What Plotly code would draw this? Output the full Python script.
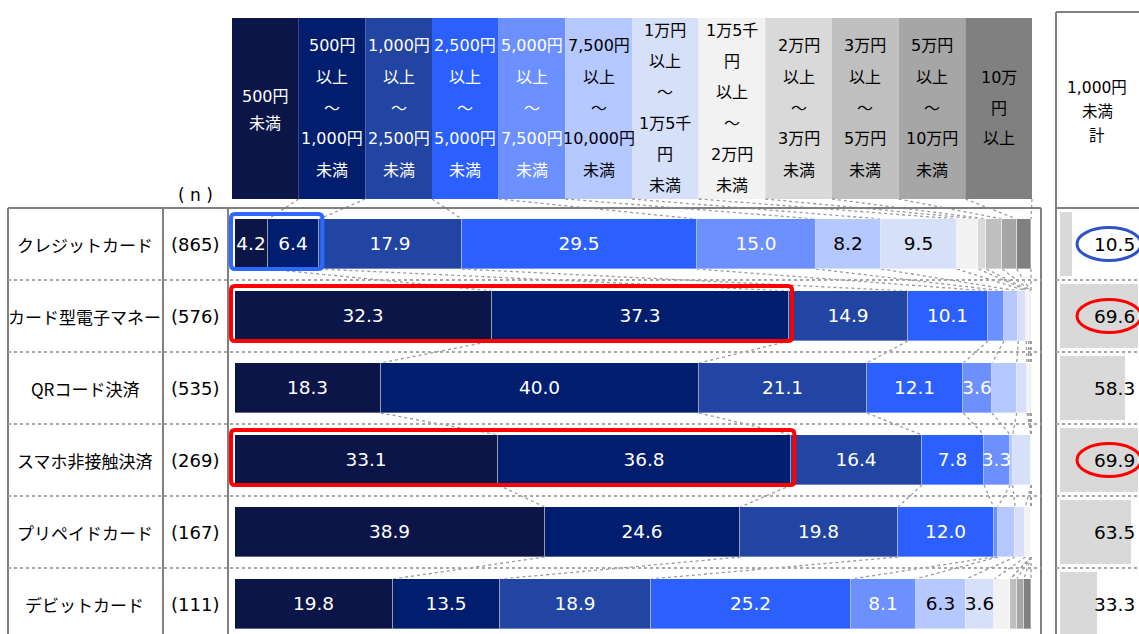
import plotly.graph_objects as go

# ---------------- data ----------------
categories = ["クレジットカード", "カード型電子マネー", "QRコード決済",
              "スマホ非接触決済", "プリペイドカード", "デビットカード"]
n_labels = ["(865)", "(576)", "(535)", "(269)", "(167)", "(111)"]

header_lines = [
    ["500円", "未満"],
    ["500円", "以上", "～", "1,000円", "未満"],
    ["1,000円", "以上", "～", "2,500円", "未満"],
    ["2,500円", "以上", "～", "5,000円", "未満"],
    ["5,000円", "以上", "～", "7,500円", "未満"],
    ["7,500円", "以上", "～", "10,000円", "未満"],
    ["1万円", "以上", "～", "1万5千", "円", "未満"],
    ["1万5千", "円", "以上", "～", "2万円", "未満"],
    ["2万円", "以上", "～", "3万円", "未満"],
    ["3万円", "以上", "～", "5万円", "未満"],
    ["5万円", "以上", "～", "10万円", "未満"],
    ["10万", "円", "以上"],
]

lt500       = [4.2, 32.3, 18.3, 33.1, 38.9, 19.8]
b500_1000   = [6.4, 37.3, 40.0, 36.8, 24.6, 13.5]
b1000_2500  = [17.9, 14.9, 21.1, 16.4, 19.8, 18.9]
b2500_5000  = [29.5, 10.1, 12.1, 7.8, 12.0, 25.2]
b5000_7500  = [15.0, 2.0, 3.6, 3.3, 0.5, 8.1]
b7500_10000 = [8.2, 1.8, 3.1, 0.3, 2.2, 6.3]
b10k_15k    = [9.5, 1.0, 1.3, 2.3, 1.3, 3.6]
b15k_20k    = [2.7, 0.3, 0.2, 0.0, 0.7, 2.0]
b20k_30k    = [1.0, 0.2, 0.2, 0.0, 0.0, 0.0]
b30k_50k    = [2.0, 0.1, 0.1, 0.0, 0.0, 0.8]
b50k_100k   = [1.8, 0.0, 0.0, 0.0, 0.0, 0.9]
ge100k      = [1.8, 0.0, 0.0, 0.0, 0.0, 0.9]

series = [lt500, b500_1000, b1000_2500, b2500_5000, b5000_7500, b7500_10000,
          b10k_15k, b15k_20k, b20k_30k, b30k_50k, b50k_100k, ge100k]

under1000_total = [10.5, 69.6, 58.3, 69.9, 63.5, 33.3]
highlight_rows = {0: "#2d68ff", 1: "#ff0000", 3: "#ff0000"}
circle_colors = {0: "#2f52c4", 1: "#ff0000", 3: "#ff0000"}

# ---------------- style ----------------
W, H = 1139, 634
colors = ["#0b1548", "#001d6e", "#2244a2", "#2b60ff", "#6c90ff", "#b5c8ff",
          "#d6e0f8", "#f2f2f2", "#d9d9d9", "#bfbfbf", "#a6a6a6", "#808080"]
text_colors = ["white"] * 5 + ["black"] * 7
NUMFONT = "DejaVu Sans, Noto Sans CJK JP"
JPFONT = "Noto Sans CJK JP"
GRID = "#808080"
LABEL_MIN = 3.2

# pixel geometry helpers
BAR_X0, BAR_X1 = 235, 1031          # px where 0% and 100% fall
PXPU = (BAR_X1 - BAR_X0) / 100.0     # px per percent
ROW0, ROWH = 244, 72                 # px of first row centre, row pitch
BARW = 50 / ROWH


def xp(px):
    return px / W


def yp(py):
    return 1 - py / H


def ydata(py):
    return (py - ROW0) / ROWH


def xdata(px):
    return (px - BAR_X0) / PXPU


fig = go.Figure()
rows = list(range(len(categories)))

for k, vals in enumerate(series):
    fig.add_trace(go.Bar(
        x=vals, y=rows, orientation="h", width=BARW,
        marker=dict(color=colors[k], line=dict(color="rgba(255,255,255,0.35)", width=1)),
        text=[f"{v:.1f}" if v >= LABEL_MIN else "" for v in vals],
        textposition="inside", insidetextanchor="middle", textangle=0,
        constraintext="none",
        textfont=dict(family=NUMFONT, size=18.5, color=text_colors[k]),
        hoverinfo="skip", showlegend=False, xaxis="x", yaxis="y",
    ))

# right column bars (1,000円未満 計)
fig.add_trace(go.Bar(
    x=under1000_total, y=rows, orientation="h", width=0.9,
    marker=dict(color="#d9d9d9", line=dict(width=0)),
    hoverinfo="skip", showlegend=False, xaxis="x2", yaxis="y",
))

shapes = []
annotations = []

# header colour blocks
HX0, HCW = 232, 800 / 12
HY0, HY1 = 18, 199
for k, lines in enumerate(header_lines):
    x0 = HX0 + k * HCW
    shapes.append(dict(type="rect", xref="paper", yref="paper",
                       x0=xp(x0), x1=xp(x0 + HCW), y0=yp(HY1), y1=yp(HY0),
                       fillcolor=colors[k], line=dict(width=0), layer="below"))
    L = len(lines)
    sp = 31 if L > 2 else 27
    c = 108 if L > 2 else 110
    for j, t in enumerate(lines):
        py = c + (j - (L - 1) / 2) * sp
        annotations.append(dict(xref="paper", yref="paper", x=xp(x0 + HCW / 2), y=yp(py),
                                text=t, showarrow=False, xanchor="center", yanchor="middle",
                                font=dict(family=NUMFONT, size=16, color=text_colors[k])))

# cumulative boundaries
cums = []
for i in rows:
    s, c = 0.0, []
    for vals in series:
        s += vals[i]
        c.append(s)
    cums.append(c)

DOT = dict(color="#9a9a9a", width=1.3, dash="dot")
# connectors header -> first bar
for k in range(12):
    shapes.append(dict(type="line", xref="x", yref="y",
                       x0=xdata(HX0 + (k + 1) * HCW), y0=ydata(HY1),
                       x1=cums[0][k], y1=0 - BARW / 2, line=DOT, layer="below"))
# series lines between bars
for i in rows[:-1]:
    for k in range(12):
        shapes.append(dict(type="line", xref="x", yref="y",
                           x0=cums[i][k], y0=i + BARW / 2,
                           x1=cums[i + 1][k], y1=i + 1 - BARW / 2, line=DOT, layer="below"))

# table lines
SOLID = dict(color=GRID, width=2)
shapes.append(dict(type="line", xref="paper", yref="paper", x0=xp(8), x1=xp(1041),
                   y0=yp(208), y1=yp(208), line=SOLID))
for vx in (8, 163, 228, 1041):
    shapes.append(dict(type="line", xref="paper", yref="paper", x0=xp(vx), x1=xp(vx),
                       y0=yp(208), y1=yp(H + 5), line=SOLID))
shapes.append(dict(type="line", xref="paper", yref="paper", x0=xp(1056), x1=xp(1056),
                   y0=yp(12), y1=yp(H + 5), line=SOLID))
shapes.append(dict(type="line", xref="paper", yref="paper", x0=xp(1056), x1=xp(W + 5),
                   y0=yp(12), y1=yp(12), line=SOLID))
shapes.append(dict(type="line", xref="paper", yref="paper", x0=xp(1056), x1=xp(W + 5),
                   y0=yp(208), y1=yp(208), line=SOLID))
ROWDOT = dict(color="#a6a6a6", width=2, dash="dot")
for i in rows[:-1]:
    for (a, b) in ((8, 1041), (1056, W + 5)):
        shapes.append(dict(type="line", xref="paper", yref="y", x0=xp(a), x1=xp(b),
                           y0=i + 0.5, y1=i + 0.5, line=ROWDOT))

# highlight rectangles around first two segments
def rrect(x0, x1, y0, y1, rx, ry):
    return (f"M {x0+rx},{y0} L {x1-rx},{y0} Q {x1},{y0} {x1},{y0+ry} "
            f"L {x1},{y1-ry} Q {x1},{y1} {x1-rx},{y1} L {x0+rx},{y1} "
            f"Q {x0},{y1} {x0},{y1-ry} L {x0},{y0+ry} Q {x0},{y0} {x0+rx},{y0} Z")

for i, col in highlight_rows.items():
    x1 = cums[i][1] + 3 / PXPU
    x0 = -4 / PXPU
    shapes.append(dict(type="path", xref="x", yref="y",
                       path=rrect(x0, x1, i - 30 / ROWH, i + 25 / ROWH, 4 / PXPU, 4 / ROWH),
                       line=dict(color=col, width=4)))

# ellipses on right column
for i, col in circle_colors.items():
    shapes.append(dict(type="circle", xref="paper", yref="y",
                       x0=xp(1077), x1=xp(1141), y0=i - 16.5 / ROWH, y1=i + 16.5 / ROWH,
                       line=dict(color=col, width=3)))

# row labels
for i in rows:
    annotations.append(dict(xref="paper", yref="y", x=xp(85), y=i, text=categories[i],
                            showarrow=False, xanchor="center", yanchor="middle",
                            font=dict(family=JPFONT, size=17, color="black")))
    annotations.append(dict(xref="paper", yref="y", x=xp(195), y=i, text=n_labels[i],
                            showarrow=False, xanchor="center", yanchor="middle",
                            font=dict(family=NUMFONT, size=18, color="black")))
    annotations.append(dict(xref="paper", yref="y", x=xp(1137), y=i,
                            text=f"{under1000_total[i]:.1f}",
                            showarrow=False, xanchor="right", yanchor="middle",
                            font=dict(family=NUMFONT, size=18.5, color="black")))

annotations.append(dict(xref="paper", yref="paper", x=xp(195), y=yp(195), text="( n )",
                        showarrow=False, xanchor="center", yanchor="middle",
                        font=dict(family=NUMFONT, size=17, color="black")))
for j, t in enumerate(["1,000円", "未満", "計"]):
    annotations.append(dict(xref="paper", yref="paper", x=xp(1097), y=yp(88 + 24 * j), text=t,
                            showarrow=False, xanchor="center", yanchor="middle",
                            font=dict(family=NUMFONT, size=15.5, color="black")))

fig.update_layout(
    width=W, height=H, margin=dict(l=0, r=0, t=0, b=0),
    paper_bgcolor="white", plot_bgcolor="rgba(0,0,0,0)",
    barmode="stack", bargap=0, showlegend=False,
    xaxis=dict(domain=[0, 1], range=[xdata(0), xdata(W)], visible=False, fixedrange=True),
    xaxis2=dict(domain=[xp(1060), 1], range=[0, (W - 1060) / 1.12], anchor="y",
                visible=False, fixedrange=True),
    yaxis=dict(domain=[0, 1], range=[ydata(H), ydata(0)], visible=False, fixedrange=True),
    shapes=shapes, annotations=annotations,
)

fig.write_html(
    "out.html",
    config={"displayModeBar": False},
    post_script="document.body.style.margin='0';document.body.style.overflow='hidden';",
)
